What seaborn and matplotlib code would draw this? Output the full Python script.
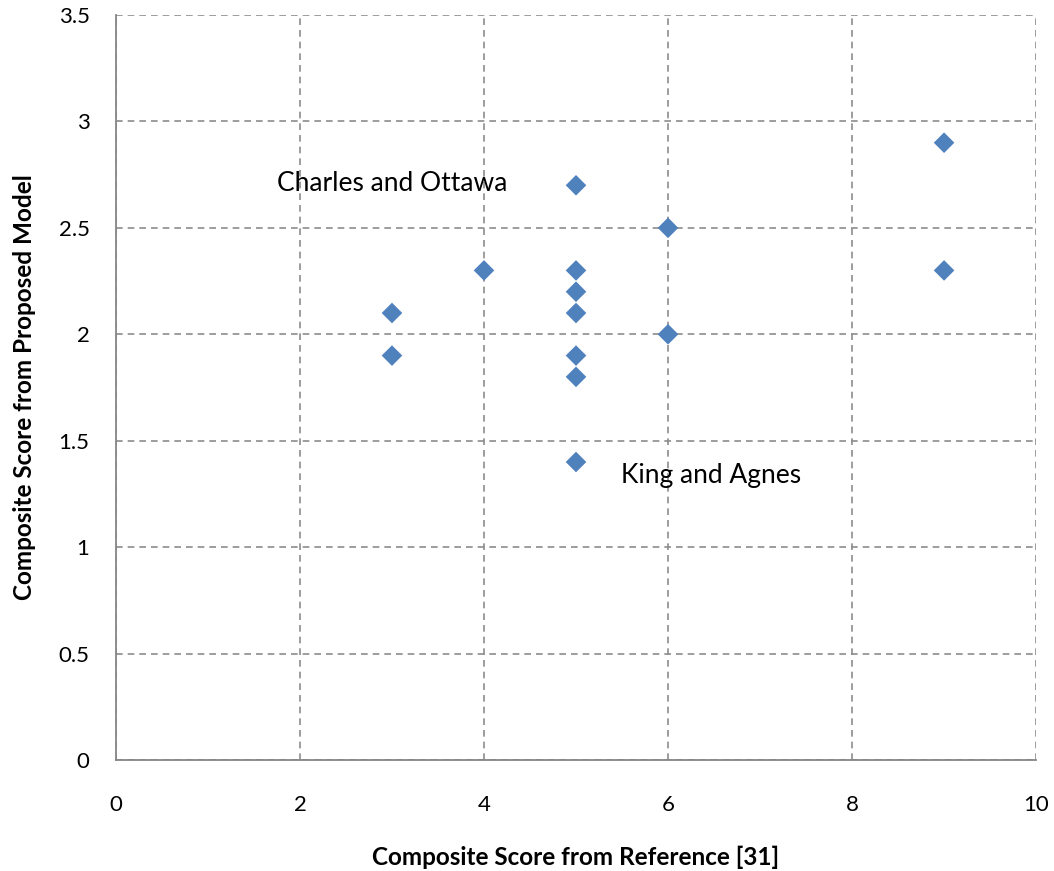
import matplotlib
matplotlib.use("Agg")
import matplotlib.pyplot as plt
import seaborn as sns
import pandas as pd

ref_scores = [3, 3, 4, 5, 5, 5, 5, 5, 5, 5, 6, 6, 9, 9]
model_scores = [2.1, 1.9, 2.3, 2.7, 2.3, 2.2, 2.1, 1.9, 1.8, 1.4, 2.5, 2.0, 2.9, 2.3]
annotations = ["Charles and Ottawa", "King and Agnes"]
annot_pos = [(1.75, 2.71), (5.49, 1.335)]
x_ticks = [0, 2, 4, 6, 8, 10]
y_ticks = [0, 0.5, 1, 1.5, 2, 2.5, 3, 3.5]

sns.set_style("white")
plt.rcParams['font.family'] = ['Lato', 'DejaVu Sans']
plt.rcParams['text.color'] = 'black'
plt.rcParams['axes.labelcolor'] = 'black'
plt.rcParams['xtick.color'] = 'black'
plt.rcParams['ytick.color'] = 'black'

df = pd.DataFrame({"ref": ref_scores, "model": model_scores})

fig = plt.figure(figsize=(10.54, 8.71), dpi=100)
ax = fig.add_axes([0.110, 0.1274, 0.873, 0.8554])

sns.scatterplot(data=df, x="ref", y="model", marker="D", s=110,
                color="#4F81BD", edgecolor="none", ax=ax, zorder=3)

ax.set_xlim(0, 10)
ax.set_ylim(0, 3.5)
ax.set_xticks(x_ticks)
ax.set_yticks(y_ticks)
ax.set_xticklabels([str(t) for t in x_ticks])
ax.set_yticklabels([f"{t:g}" for t in y_ticks])

grid_color = "#8c8c8c"
ax.grid(True, color=grid_color, linestyle=(0, (4, 3)), linewidth=1.2)
for s in ["top", "right"]:
    ax.spines[s].set_visible(False)
for s in ["left", "bottom"]:
    ax.spines[s].set_color("#868686")
    ax.spines[s].set_linewidth(1.3)

ax.tick_params(axis="both", which="both", direction="out", length=7,
               width=1.2, color="#868686", labelcolor="black", labelsize=16)
ax.tick_params(axis="y", pad=12)
ax.tick_params(axis="x", pad=18)

ax.set_xlabel("Composite Score from Reference [31]", fontsize=17.5,
              fontweight="bold", labelpad=22)
ax.set_ylabel("Composite Score from Proposed Model", fontsize=17.5,
              fontweight="bold", labelpad=16)

for txt, (x, y) in zip(annotations, annot_pos):
    ax.text(x, y, txt, fontsize=19, ha="left", va="center", color="black")

fig.savefig("out.png", dpi=100)
